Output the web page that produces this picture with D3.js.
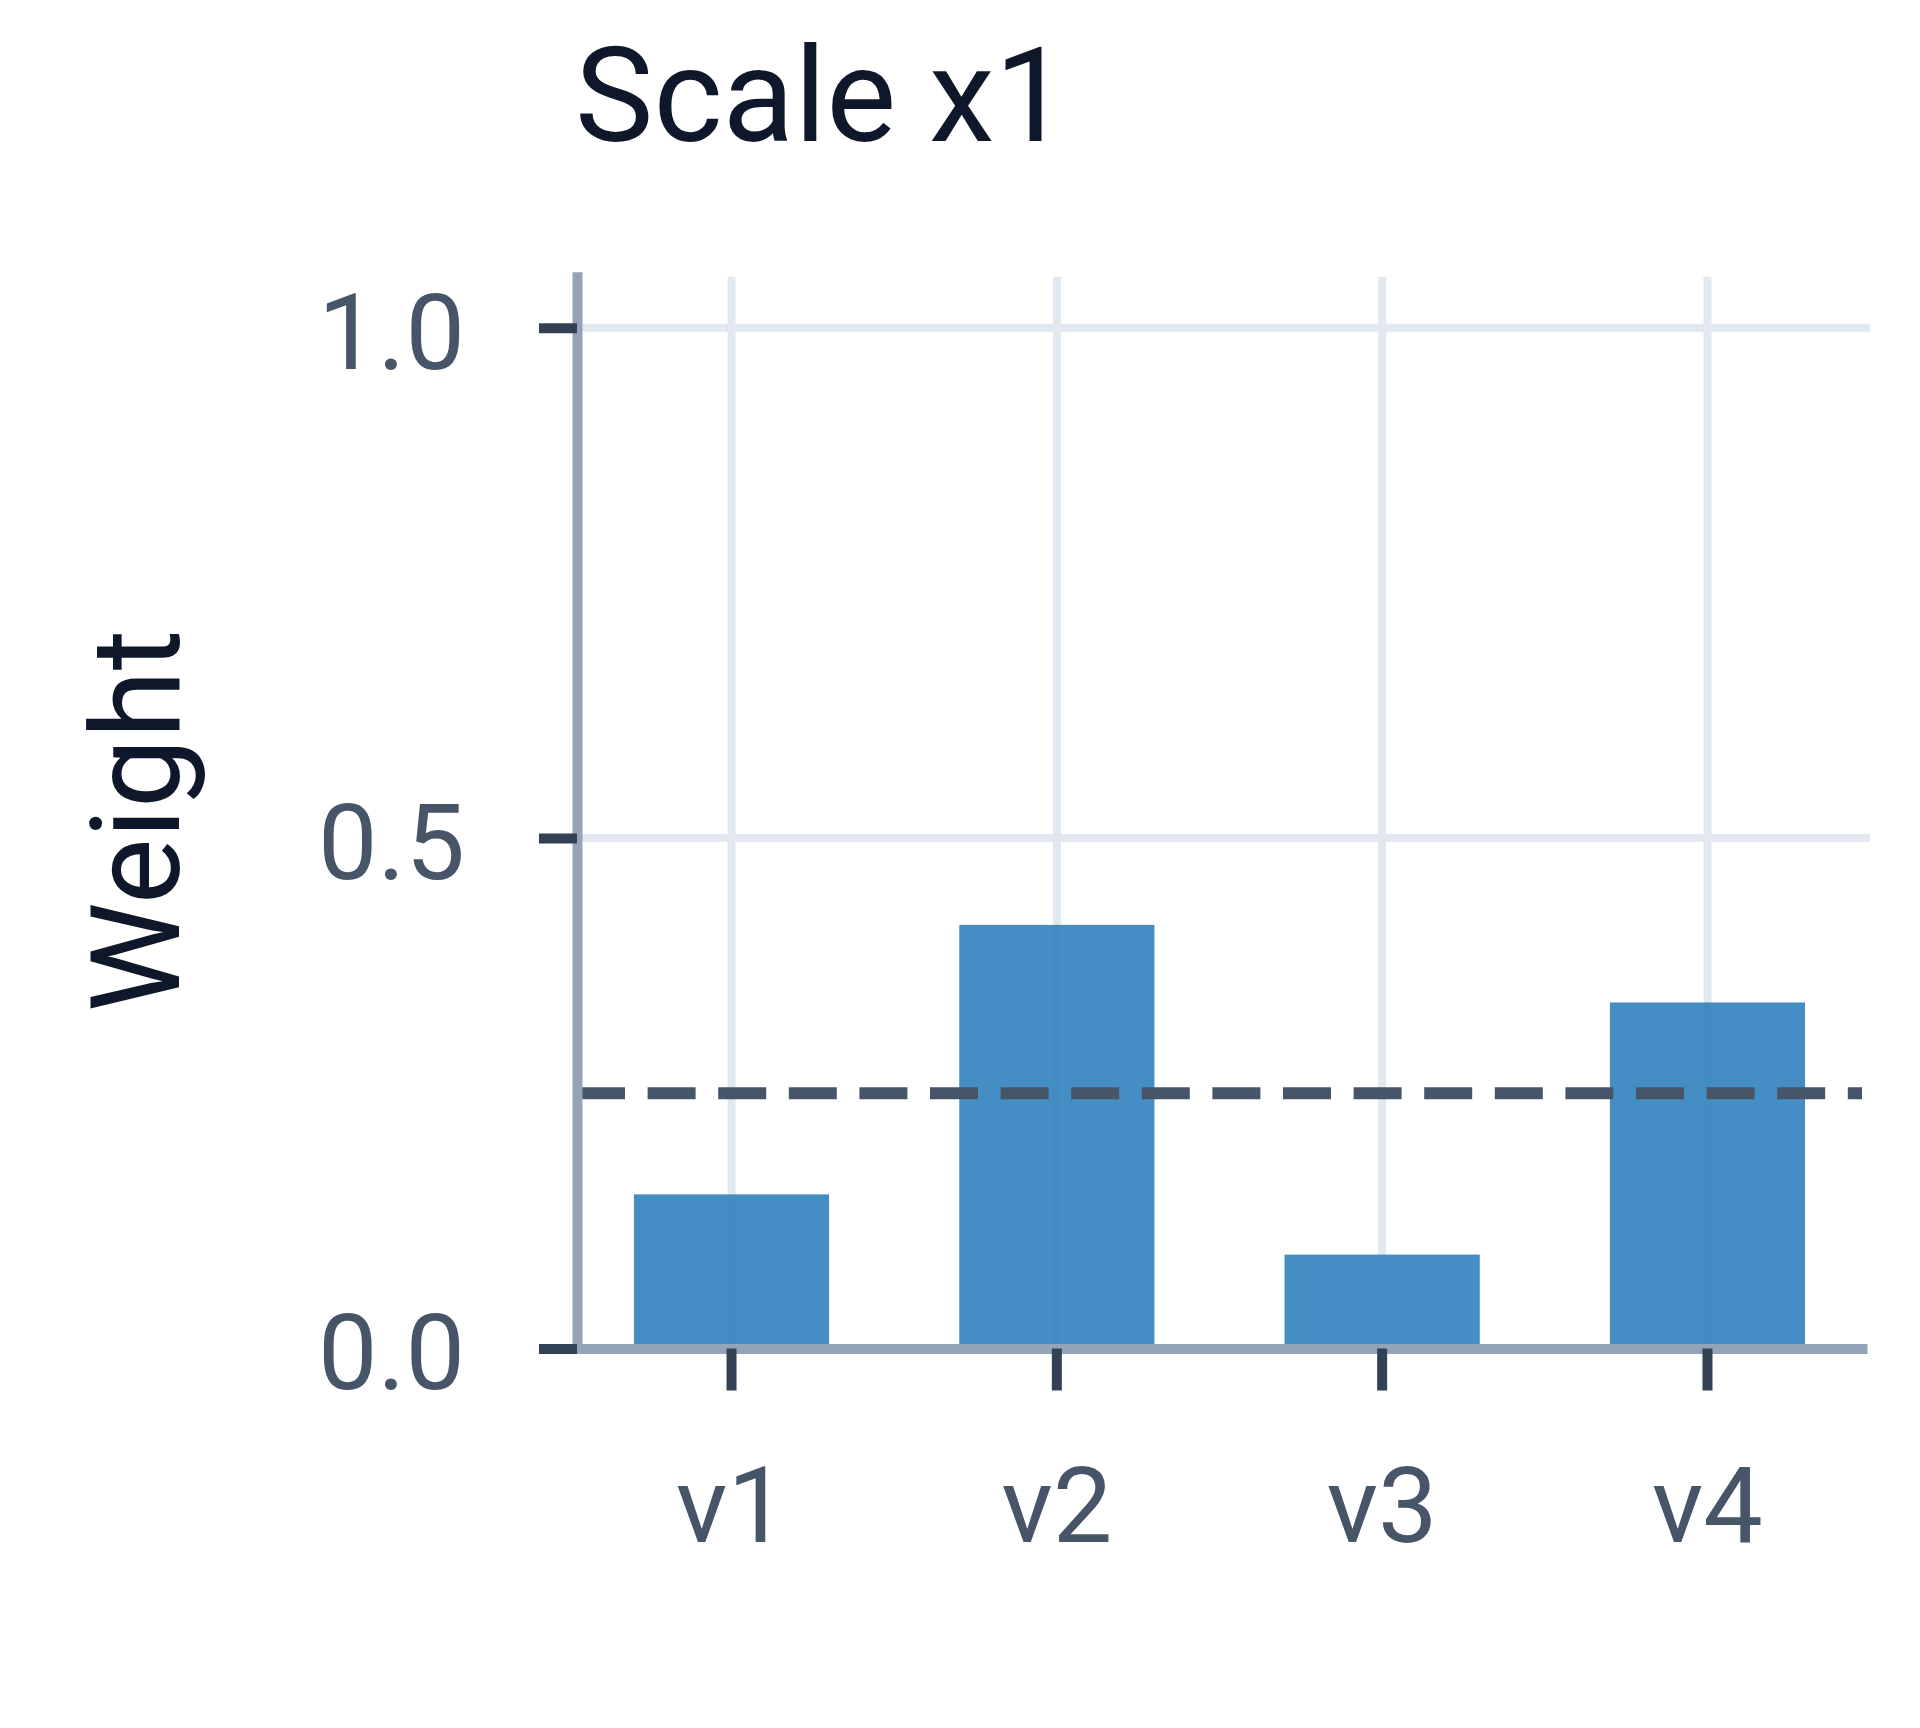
<!DOCTYPE html>
<html>
<head>
<meta charset="utf-8">
<script src="https://cdn.jsdelivr.net/npm/d3@7"></script>
<style>
  body { margin: 0; background: #fff; }
  svg { display: block; font-family: Roboto, "Noto Sans", sans-serif; }
</style>
</head>
<body>
<svg></svg>
<script>
const width = 1920;
const height = 1728;

// chart data
const categories = ["v1", "v2", "v3", "v4"];
const weights = [0.151, 0.415, 0.092, 0.339];
const uniformWeight = 0.25;
const yTicks = [0, 0.5, 1.0];

const data = categories.map((c, i) => ({ name: c, weight: weights[i] }));

// plot box
const plotLeft = 577, plotRight = 1862, plotTop = 276.7, plotBottom = 1348.5;

let xScale = d3.scaleBand()
    .domain(categories)
    .range([plotLeft, plotRight])
    .paddingInner(0.4)
    .paddingOuter(0.175);
let yScale = d3.scaleLinear()
    .domain([0, 1.05])
    .range([plotBottom, plotTop]);

let svg = d3.select("svg")
    .attr("width", width)
    .attr("height", height);

// grid
let grid = svg.append("g")
    .attr("stroke", "#e2e8f0")
    .attr("stroke-width", 8);
grid.selectAll("line.h")
    .data(yTicks.filter(d => d > 0))
    .enter()
    .append("line")
        .attr("class", "h")
        .attr("x1", plotLeft)
        .attr("x2", plotRight + 8)
        .attr("y1", d => yScale(d))
        .attr("y2", d => yScale(d));
grid.selectAll("line.v")
    .data(categories)
    .enter()
    .append("line")
        .attr("class", "v")
        .attr("x1", d => xScale(d) + xScale.bandwidth() / 2)
        .attr("x2", d => xScale(d) + xScale.bandwidth() / 2)
        .attr("y1", yScale(1.05))
        .attr("y2", yScale(0));

// bars
svg.selectAll("rect.bar")
    .data(data)
    .enter()
    .append("rect")
        .attr("class", "bar")
        .attr("x", d => xScale(d.name))
        .attr("y", d => yScale(d.weight))
        .attr("width", xScale.bandwidth())
        .attr("height", d => yScale(0) - yScale(d.weight))
        .attr("fill", "#3182bd")
        .attr("fill-opacity", 0.9);

// uniform reference line
svg.append("line")
    .attr("x1", plotLeft)
    .attr("x2", plotRight)
    .attr("y1", yScale(uniformWeight))
    .attr("y2", yScale(uniformWeight))
    .attr("stroke", "#475569")
    .attr("stroke-width", 12)
    .attr("stroke-dasharray", "48 22.6");

// axes
let xAxis = d3.axisBottom(xScale)
    .tickSize(42)
    .tickSizeOuter(0)
    .tickPadding(76);
let yAxis = d3.axisLeft(yScale)
    .tickValues(yTicks)
    .tickFormat(d3.format(".1f"))
    .tickSize(38)
    .tickSizeOuter(0)
    .tickPadding(74);

function styleAxis(g) {
    g.attr("font-family", null).attr("font-size", null);
    g.select(".domain")
        .attr("stroke", "#94a3b8")
        .attr("stroke-width", 10)
        .attr("stroke-linecap", "square");
    g.selectAll(".tick line")
        .attr("stroke", "#334155")
        .attr("stroke-width", 10);
    g.selectAll(".tick text")
        .attr("fill", "#475569")
        .style("font-size", "106px");
}

svg.append("g")
    .attr("transform", `translate(0, ${plotBottom})`)
    .call(xAxis)
    .call(styleAxis);
svg.append("g")
    .attr("transform", `translate(${plotLeft}, 0)`)
    .call(yAxis)
    .call(styleAxis)
    .selectAll(".tick text")
        .attr("dy", "0.38em");

// titles
svg.append("text")
    .attr("x", 575)
    .attr("y", 141)
    .attr("fill", "#0f172a")
    .style("font-size", "132px")
    .text("Scale x1");

svg.append("text")
    .attr("transform", "translate(179, 821) rotate(-90)")
    .attr("fill", "#0f172a")
    .style("text-anchor", "middle")
    .style("font-size", "124px")
    .text("Weight");
</script>
</body>
</html>
